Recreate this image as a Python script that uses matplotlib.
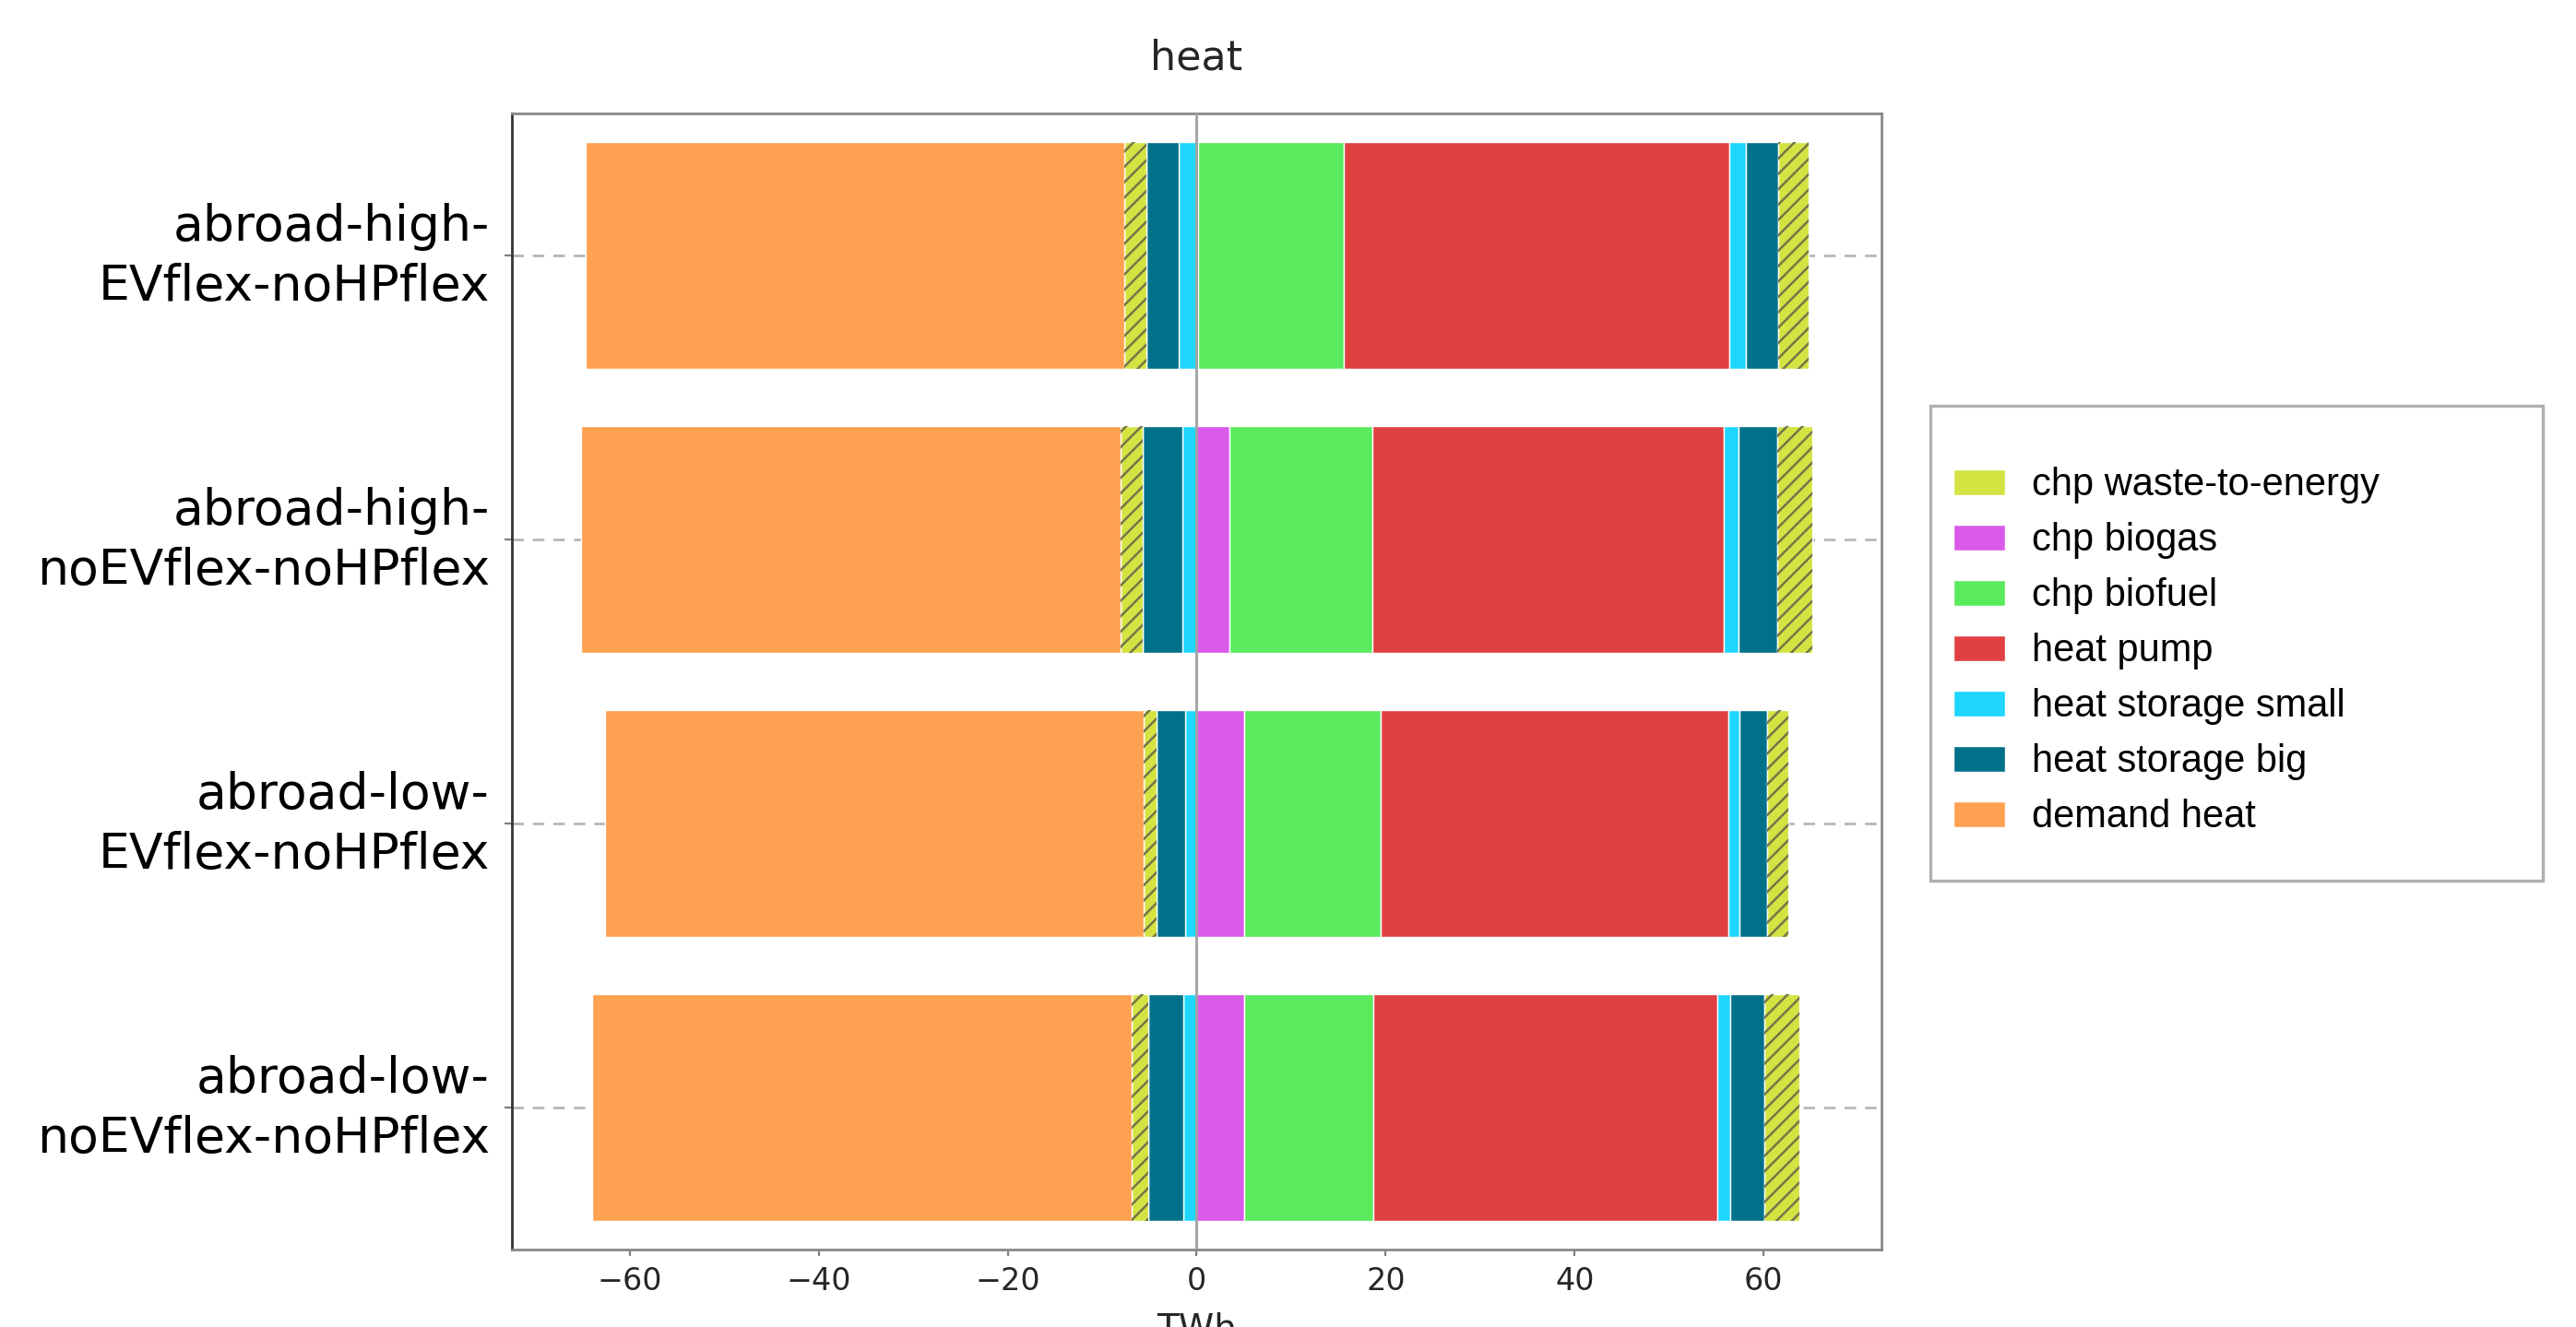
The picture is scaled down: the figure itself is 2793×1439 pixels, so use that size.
import numpy as np
import matplotlib
matplotlib.use("Agg")
import matplotlib.pyplot as plt
from matplotlib.patches import Patch, Rectangle
from matplotlib.transforms import ScaledTranslation

# --- DATA (TWh) ---
scenarios = [
    "abroad-high-\nEVflex-noHPflex",
    "abroad-high-\nnoEVflex-noHPflex",
    "abroad-low-\nEVflex-noHPflex",
    "abroad-low-\nnoEVflex-noHPflex",
]

# supply side (positive), stacked from zero outwards
chp_biogas = [0.15, 3.5, 5.05, 5.05]
chp_biofuel = [15.4, 15.15, 14.45, 13.65]
heat_pump = [40.8, 37.2, 36.8, 36.4]
storage_small_out = [1.8, 1.5, 1.2, 1.4]
storage_big_out = [3.4, 4.1, 2.9, 3.6]
waste_out = [3.25, 3.7, 2.2, 3.7]

# consumption side (negative), stacked from zero outwards
storage_small_in = [-1.9, -1.5, -1.2, -1.4]
storage_big_in = [-3.45, -4.2, -3.0, -3.7]
waste_in = [-2.35, -2.4, -1.45, -1.75]
demand_heat = [-57.0, -57.1, -57.0, -57.2]

# --- STYLE ---
COLORS = {
    "chp waste-to-energy": "#d4e342",
    "chp biogas": "#d95ae8",
    "chp biofuel": "#5aea5e",
    "heat pump": "#e04042",
    "heat storage small": "#1fd6ff",
    "heat storage big": "#00718a",
    "demand heat": "#ffa150",
}
HATCH_COLOR = "#74764a"
plt.rcParams["hatch.linewidth"] = 0.9

fig = plt.figure(figsize=(13.965, 7.195), dpi=200)
ax = fig.add_axes([0.1987, 0.0584, 0.5317, 0.8561])

y = np.arange(len(scenarios))
height = 0.8


def stack(series, labels, hatched):
    left = np.zeros(len(scenarios))
    for values, label in zip(series, labels):
        values = np.array(values)
        ax.barh(y, values, height, left=left, color=COLORS[label],
                edgecolor="white", linewidth=0.5, zorder=2)
        if label in hatched:
            ax.barh(y, values, height, left=left, fill=False, hatch="////",
                    edgecolor=HATCH_COLOR, linewidth=0, zorder=2.1)
        left = left + values


stack([chp_biogas, chp_biofuel, heat_pump, storage_small_out, storage_big_out, waste_out],
      ["chp biogas", "chp biofuel", "heat pump", "heat storage small",
       "heat storage big", "chp waste-to-energy"],
      ["chp waste-to-energy"])
stack([storage_small_in, storage_big_in, waste_in, demand_heat],
      ["heat storage small", "heat storage big", "chp waste-to-energy", "demand heat"],
      ["chp waste-to-energy"])

ax.axvline(0, color="#a0a0a0", linewidth=1.0, zorder=3)

ax.set_yticks(y)
ax.set_yticklabels([])
# scenario labels drawn by hand so their vertical placement can be tuned
label_tf = ax.get_yaxis_transform() + ScaledTranslation(-8.6 / 72, -0.5 / 72, fig.dpi_scale_trans)
for yi, name in zip(y, scenarios):
    ax.text(0, yi, name, transform=label_tf, ha="right", va="center",
            fontsize=19.3, color="black", linespacing=1.32)

ax.set_ylim(3.5, -0.5)
ax.set_xlim(-72.5, 72.5)
ax.set_xticks([-60, -40, -20, 0, 20, 40, 60])
ax.tick_params(axis="x", labelsize=12, labelcolor="#262626", length=2.5,
               color="#808080", pad=4)
ax.tick_params(axis="y", length=3, color="#808080", pad=5)

ax.grid(axis="y", color="#b8b8b8", linestyle=(0, (4.5, 3.5)), linewidth=1.0, zorder=0)
ax.set_axisbelow(True)

for name, sp in ax.spines.items():
    sp.set_color("#888888")
    sp.set_linewidth(1.0)
ax.spines["left"].set_color("#333333")

ax.set_title("heat", fontsize=16, color="#262626", pad=17)
ax.set_xlabel("TWh", fontsize=14, color="#262626", labelpad=6)

# legend: solid handles, drawn without frame; frame added separately
legend_order = ["chp waste-to-energy", "chp biogas", "chp biofuel", "heat pump",
                "heat storage small", "heat storage big", "demand heat"]
handles = [Patch(facecolor=COLORS[k], edgecolor="white", linewidth=0.5) for k in legend_order]
fig.legend(handles, legend_order, loc="center left", bbox_to_anchor=(0.7583, 0.5091),
           frameon=False, borderpad=0, borderaxespad=0,
           prop={"family": "Liberation Sans", "size": 15},
           handlelength=1.35, handleheight=0.67, handletextpad=0.69, labelspacing=0.48)
fig.patches.append(Rectangle((0.7494, 0.3363), 0.2377, 0.3579, transform=fig.transFigure,
                             fill=False, edgecolor="#b0b0b0", linewidth=1.2))

fig.savefig("out.png", dpi=200)
